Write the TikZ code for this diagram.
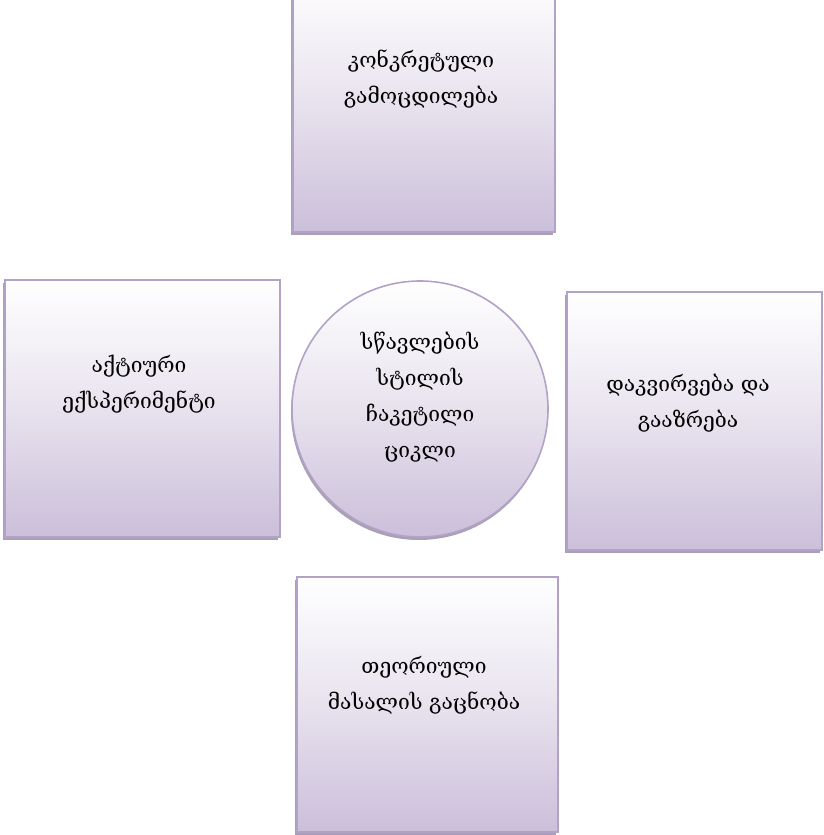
\documentclass[tikz,border=0pt]{standalone}
\usepackage{fontspec}
\newfontfamily\geofont{DejaVu Serif}
\usetikzlibrary{shadows}
\definecolor{boxline}{RGB}{178,162,199}
\definecolor{boxbottom}{RGB}{203,191,218}
\definecolor{boxmid}{RGB}{232,226,238}
\definecolor{boxshadow}{RGB}{160,150,172}
\tikzset{
  cardbox/.style={rectangle, draw=boxline, line width=1.4pt,
    top color=white, bottom color=boxbottom, middle color=boxmid,
    inner sep=0pt,
    drop shadow={shadow xshift=-2pt, shadow yshift=-3pt, fill=boxshadow, opacity=0.9}},
  hubdisc/.style={circle, draw=boxline, line width=1.6pt,
    top color=white, bottom color=boxbottom, middle color=boxmid,
    inner sep=0pt, minimum size=256pt,
    drop shadow={shadow xshift=-1pt, shadow yshift=-3pt, fill=boxshadow, opacity=0.9}},
  caption/.style={align=center, font=\geofont\fontsize{21}{36}\selectfont, text=black}
}
\begin{document}
\begin{tikzpicture}[x=1pt,y=-1pt]
  \useasboundingbox (0,0) rectangle (823,835);
  % four stage boxes
  \node[cardbox, minimum width=262pt, minimum height=257pt] (concrete) at (424,103.5) {};
  \node[cardbox, minimum width=275pt, minimum height=257pt] (active) at (142.5,408.5) {};
  \node[cardbox, minimum width=255pt, minimum height=258pt] (reflect) at (694.5,421) {};
  \node[cardbox, minimum width=261pt, minimum height=255pt] (theory) at (427.5,704.5) {};
  % central disc
  \node[hubdisc] (cycle) at (420,409) {};
  % labels
  \node[caption] (concretetext) at (421,79) {კონკრეტული\\გამოცდილება};
  \node[caption] (activetext) at (139,384) {აქტიური\\ექსპერიმენტი};
  \node[caption] (reflecttext) at (688,403) {დაკვირვება და\\გააზრება};
  \node[caption] (theorytext) at (424,685) {თეორიული\\მასალის გაცნობა};
  \node[caption] (cycletext) at (420,397) {სწავლების\\სტილის\\ჩაკეტილი\\ციკლი};
\end{tikzpicture}
\end{document}
